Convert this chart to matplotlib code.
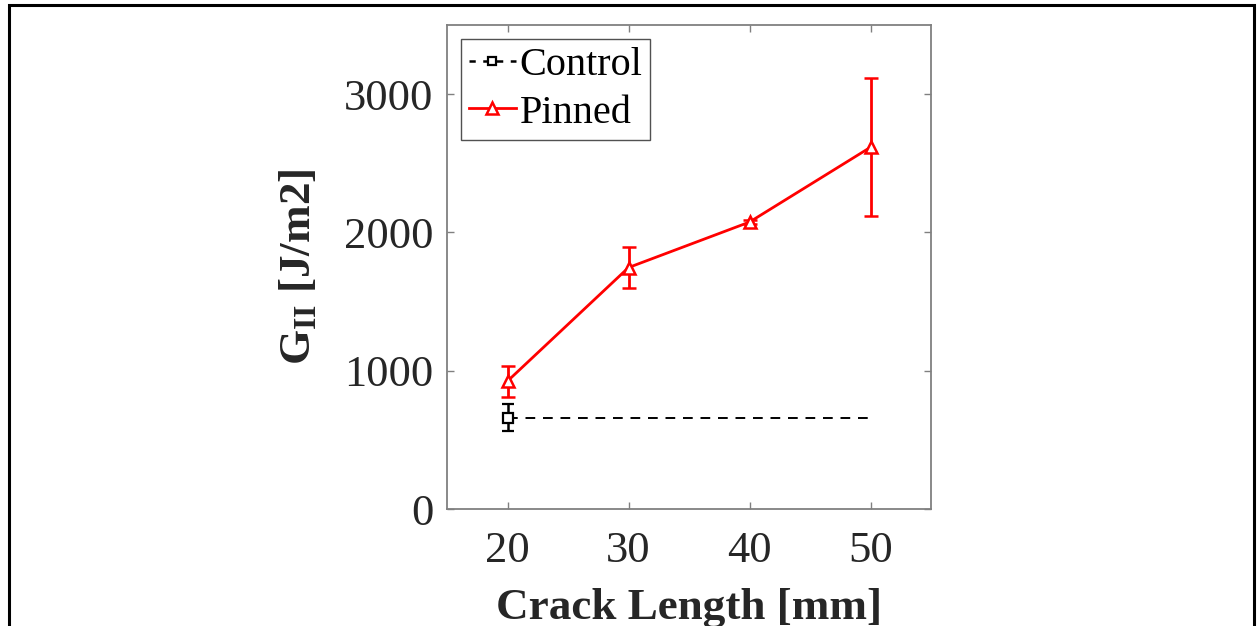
import matplotlib
matplotlib.use("Agg")
import matplotlib.pyplot as plt
from matplotlib.patches import Rectangle

# data
crack_length = [20, 30, 40, 50]
pinned_mean = [925, 1746, 2075, 2616]
pinned_err = [112, 145, 15, 500]

control_x = [20]
control_mean = [660]
control_err = [98]
control_span = [20, 50]

x_ticks = [20, 30, 40, 50]
y_ticks = [0, 1000, 2000, 3000]

plt.rcParams.update({
    "font.family": "Liberation Serif",
    "mathtext.fontset": "custom",
    "mathtext.rm": "Liberation Serif",
    "mathtext.bf": "Liberation Serif:bold",
    "font.size": 32,
})

fig = plt.figure(figsize=(12.6, 6.26), dpi=100)
ax = fig.add_axes([0.3548, 0.1869, 0.3841, 0.7732])

# control: single point with error bar + dashed reference line
ax.plot(control_span, [control_mean[0]] * 2, color="black", linestyle=(0, (5, 4)),
        linewidth=1.4, zorder=2)
ax.errorbar(control_x, control_mean, yerr=control_err, color="black",
            marker="s", markersize=7, markerfacecolor="white", markeredgewidth=1.6,
            elinewidth=1.8, capsize=4, capthick=1.8, linestyle="none", zorder=3)

# pinned
ax.errorbar(crack_length, pinned_mean, yerr=pinned_err, color="#ff0000",
            marker="^", markersize=9, markerfacecolor="white", markeredgewidth=1.8,
            linewidth=2.0, elinewidth=2.0, capsize=5, capthick=2.0, zorder=4)

# legend proxies (no error bars in the legend)
h_ctrl, = ax.plot([], [], color="black", linestyle=(0, (2.5, 3)), linewidth=1.8,
                  marker="s", markersize=6, markerfacecolor="white",
                  markeredgewidth=1.6)
h_pin, = ax.plot([], [], color="#ff0000", linewidth=2.0, marker="^", markersize=8,
                 markerfacecolor="white", markeredgewidth=1.8)

ax.set_xlim(15, 55)
ax.set_ylim(0, 3500)
ax.set_xticks(x_ticks)
ax.set_yticks(y_ticks)

for side in ax.spines.values():
    side.set_color("#808080")
    side.set_linewidth(1.3)
ax.tick_params(direction="in", length=5, width=1.0, color="#808080",
               top=True, right=True, labelsize=32, labelcolor="#262626")
ax.tick_params(axis="x", pad=16)
ax.tick_params(axis="y", pad=10)

ax.set_xlabel("Crack Length [mm]", fontsize=32.5, fontweight="bold",
              color="#262626", labelpad=12)
ax.set_ylabel(r"$\mathbf{G_{II}}$ [J/m2]", fontsize=32.5, fontweight="bold",
              color="#262626", labelpad=18)

leg = ax.legend([h_ctrl, h_pin], ["Control", "Pinned"],
                loc="upper left", fontsize=29, frameon=True, fancybox=False,
                handlelength=1.15, handletextpad=0.1, borderpad=0.2,
                labelspacing=0.25, borderaxespad=0.35)
leg.get_frame().set_edgecolor("#262626")
leg.get_frame().set_linewidth(1.0)

# outer frame around the figure
fig.patches.append(Rectangle((0.007, -0.05), 0.988, 1.042, transform=fig.transFigure,
                             fill=False, edgecolor="black", linewidth=2.2))

fig.savefig("out.png", dpi=100)
